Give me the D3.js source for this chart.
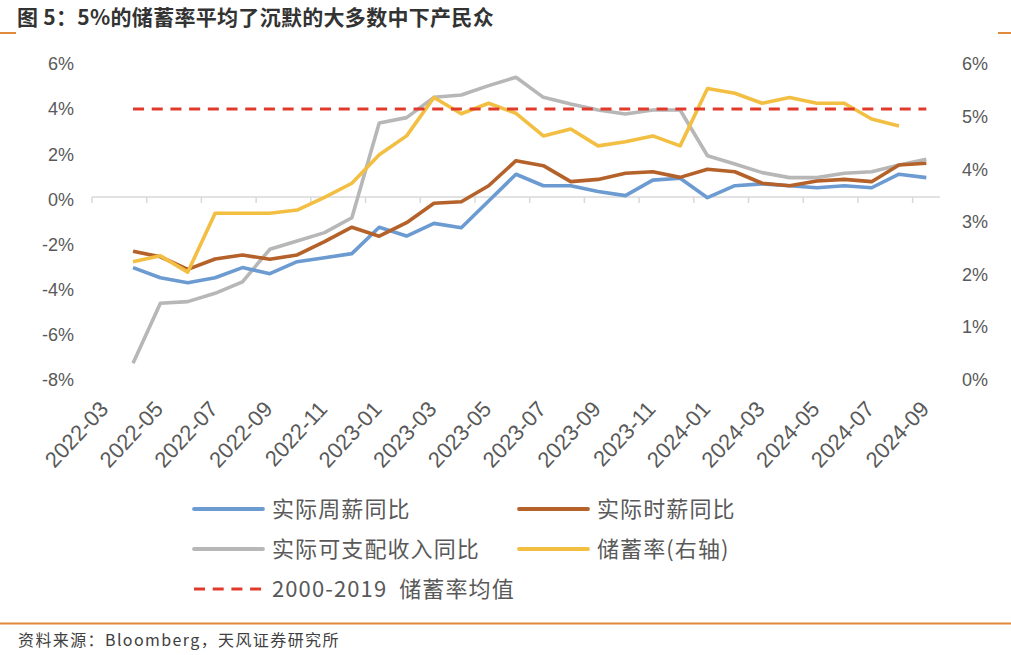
<!DOCTYPE html>
<html>
<head>
<meta charset="utf-8">
<script src="https://cdn.jsdelivr.net/npm/d3@7"></script>
<style>
  body { margin: 0; background: #fff; }
  svg text { font-family: "Liberation Sans", Arial, sans-serif; fill: #595959; }
  svg text.cn { font-family: "Noto Sans CJK SC", "Noto Sans", sans-serif; }
</style>
</head>
<body>
<svg id="chart" width="1011" height="655"></svg>
<script>
var months = [
  '2022-03','2022-04','2022-05','2022-06','2022-07','2022-08','2022-09','2022-10','2022-11','2022-12',
  '2023-01','2023-02','2023-03','2023-04','2023-05','2023-06','2023-07','2023-08','2023-09','2023-10','2023-11','2023-12',
  '2024-01','2024-02','2024-03','2024-04','2024-05','2024-06','2024-07','2024-08','2024-09'
]

// 实际周薪同比 (left axis, %)
var weeklyWage = [null, -3.13, -3.58, -3.80, -3.58, -3.13, -3.40, -2.87, -2.69, -2.51,
  -1.34, -1.73, -1.17, -1.36, -0.18, 1.01, 0.50, 0.50, 0.24, 0.06, 0.75, 0.83,
  -0.03, 0.50, 0.58, 0.50, 0.41, 0.50, 0.41, 1.01, 0.86]

// 实际时薪同比 (left axis, %)
var hourlyWage = [null, -2.41, -2.65, -3.21, -2.75, -2.57, -2.76, -2.57, -1.98, -1.34,
  -1.74, -1.14, -0.28, -0.21, 0.50, 1.61, 1.39, 0.68, 0.78, 1.05, 1.12, 0.87,
  1.23, 1.12, 0.61, 0.50, 0.71, 0.78, 0.68, 1.42, 1.50]

// 实际可支配收入同比 (left axis, %)
var disposable = [null, -7.37, -4.71, -4.64, -4.27, -3.76, -2.32, -1.95, -1.58, -0.92,
  3.28, 3.52, 4.42, 4.52, 4.94, 5.31, 4.42, 4.12, 3.86, 3.68, 3.86, 3.86,
  1.83, 1.46, 1.08, 0.86, 0.86, 1.05, 1.12, 1.42, 1.67]

// 储蓄率 (right axis, %)
var savings = [null, 2.20, 2.31, 2.00, 3.12, 3.12, 3.12, 3.18, 3.42, 3.69,
  4.23, 4.59, 5.32, 5.01, 5.21, 5.02, 4.59, 4.72, 4.40, 4.48, 4.59, 4.40,
  5.49, 5.40, 5.21, 5.32, 5.21, 5.21, 4.91, 4.78, null]

// 2000-2019 储蓄率均值 (right axis, %)
var savingsMean = [null, 5.1, 5.1, 5.1, 5.1, 5.1, 5.1, 5.1, 5.1, 5.1,
  5.1, 5.1, 5.1, 5.1, 5.1, 5.1, 5.1, 5.1, 5.1, 5.1, 5.1, 5.1,
  5.1, 5.1, 5.1, 5.1, 5.1, 5.1, 5.1, 5.1, 5.1]

var leftTicks = [-8, -6, -4, -2, 0, 2, 4, 6]
var rightTicks = [0, 1, 2, 3, 4, 5, 6]
var labelMonths = months.filter((d, i) => i % 2 == 0)

var svg = d3.select('#chart')

var x = d3.scaleBand().domain(months).range([92, 940]).paddingInner(0).paddingOuter(0)
var cx = d => x(d) + x.bandwidth()/2
var yL = d3.scaleLinear().domain([-8, 6]).range([377.4, 61.7])
var yR = d3.scaleLinear().domain([0, 6]).range([377.4, 61.7])

// title
svg.append('text').attr('class', 'cn')
  .attr('x', 17).attr('y', 25)
  .style('font-size', '21px').style('font-weight', 'bold').style('fill', '#333')
  .style('letter-spacing', '0.3px').style('white-space', 'pre')
  .text('图 5：5%的储蓄率平均了沉默的大多数中下产民众')
svg.append('line').attr('x1', 0).attr('x2', 16).attr('y1', 33).attr('y2', 33)
  .attr('stroke', '#e08a3c').attr('stroke-width', 2)
svg.append('line').attr('x1', 998).attr('x2', 1011).attr('y1', 33).attr('y2', 33)
  .attr('stroke', '#e08a3c').attr('stroke-width', 2)

// left axis
var gL = svg.append('g').attr('transform', 'translate(74,0)')
  .call(d3.axisLeft(yL).tickValues(leftTicks).tickSize(0).tickPadding(0).tickFormat(d => d + '%'))
gL.select('.domain').remove()
gL.selectAll('text').style('font-size', '18px').attr('dy', '0.45em').style('fill', '#595959')

// right axis
var gR = svg.append('g').attr('transform', 'translate(962,0)')
  .call(d3.axisRight(yR).tickValues(rightTicks).tickSize(0).tickPadding(0).tickFormat(d => d + '%'))
gR.select('.domain').remove()
gR.selectAll('text').style('font-size', '18px').attr('dy', '0.45em').style('fill', '#595959')

// zero line with category ticks
svg.append('line')
  .attr('x1', x.range()[0]).attr('x2', x.range()[1])
  .attr('y1', yL(0)).attr('y2', yL(0))
  .attr('stroke', '#d9d9d9').attr('stroke-width', 1.5)
svg.selectAll('line.xtick').data(labelMonths).enter().append('line')
  .attr('class', 'xtick')
  .attr('x1', d => x(d)).attr('x2', d => x(d))
  .attr('y1', yL(0)).attr('y2', yL(0) + 6)
  .attr('stroke', '#d9d9d9').attr('stroke-width', 1.5)

// x labels (low position)
var gX = svg.append('g').attr('transform', 'translate(0,410)')
  .call(d3.axisBottom(x).tickValues(labelMonths).tickSize(0).tickPadding(0))
gX.select('.domain').remove()
gX.selectAll('.tick text')
  .style('font-size', '22px').style('fill', '#595959')
  .attr('text-anchor', 'end').attr('dy', 0).attr('y', 0)
  .attr('transform', 'translate(4,0) rotate(-47)')

// lines
var lineL = d3.line().defined(d => d[1] != null).x(d => cx(d[0])).y(d => yL(d[1]))
var lineR = d3.line().defined(d => d[1] != null).x(d => cx(d[0])).y(d => yR(d[1]))
var pairs = arr => months.map((m, i) => [m, arr[i]])

var series = [
  {name: '实际周薪同比', data: weeklyWage, color: '#6c9bd2', line: lineL},
  {name: '实际时薪同比', data: hourlyWage, color: '#b4612a', line: lineL},
  {name: '实际可支配收入同比', data: disposable, color: '#b7b7b7', line: lineL},
  {name: '储蓄率(右轴)', data: savings, color: '#f2bf43', line: lineR},
  {name: '2000-2019  储蓄率均值', data: savingsMean, color: '#e03a2a', line: lineR, dash: '11,7.7'}
]

var drawOrder = [2, 0, 1, 3, 4]
drawOrder.forEach(function(k){
  var s = series[k]
  svg.append('path')
    .attr('d', s.line(pairs(s.data)))
    .attr('fill', 'none')
    .attr('stroke', s.color)
    .attr('stroke-width', s.dash ? 3 : 3.6)
    .attr('stroke-linejoin', 'round')
    .attr('stroke-dasharray', s.dash || null)
})

// legend
var legendPos = [[194, 509], [519, 509], [194, 549], [519, 549], [194, 589]]
series.forEach(function(s, i){
  var p = legendPos[i]
  svg.append('line')
    .attr('x1', p[0]).attr('x2', p[0] + 69)
    .attr('y1', p[1]).attr('y2', p[1])
    .attr('stroke', s.color)
    .attr('stroke-width', s.dash ? 3 : 3.8)
    .attr('stroke-linecap', s.dash ? 'butt' : 'round')
    .attr('stroke-dasharray', s.dash || null)
  svg.append('text').attr('class', 'cn')
    .attr('x', p[0] + 78).attr('y', p[1])
    .attr('dy', '0.36em')
    .style('font-size', '22px').style('fill', '#595959')
    .style('letter-spacing', '1.1px').style('white-space', 'pre')
    .text(s.name)
})

// footer
svg.append('line').attr('x1', 0).attr('x2', 1011).attr('y1', 623.5).attr('y2', 623.5)
  .attr('stroke', '#e08a3c').attr('stroke-width', 2)
svg.append('text').attr('class', 'cn')
  .attr('x', 18).attr('y', 646)
  .style('font-size', '16px').style('fill', '#404040')
  .style('letter-spacing', '1.4px')
  .text('资料来源：Bloomberg，天风证券研究所')
</script>
</body>
</html>
